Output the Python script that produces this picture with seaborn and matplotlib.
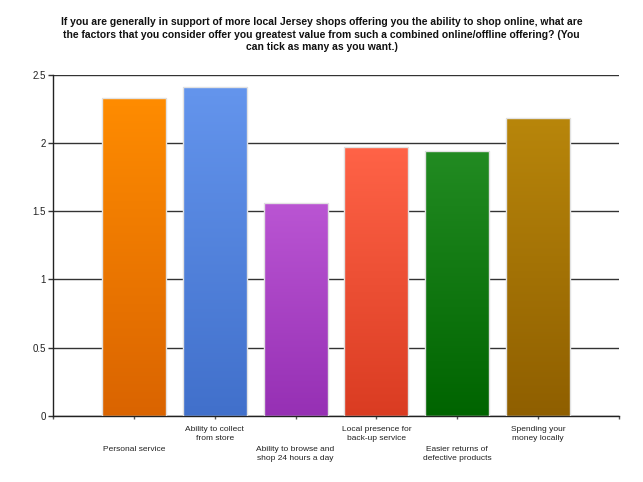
import numpy as np
import pandas as pd
import matplotlib
matplotlib.use("Agg")
import matplotlib.pyplot as plt
import seaborn as sns
from matplotlib.colors import to_rgb

categories = ["Personal service", "Ability to collect\nfrom store",
              "Ability to browse and\nshop 24 hours a day",
              "Local presence for\nback-up service",
              "Easier returns of\ndefective products",
              "Spending your\nmoney locally"]
values = [2.33, 2.41, 1.56, 1.97, 1.94, 2.18]
top_colors = ["#FF8C00", "#6495ED", "#BA55D3", "#FF6347", "#228B22", "#B8860B"]
bottom_colors = ["#DA6400", "#4170CB", "#9630B4", "#DA3C22", "#006400", "#8F5F00"]
y_ticks = [0, 0.5, 1, 1.5, 2, 2.5]
y_tick_labels = ["0", "0.5", "1", "1.5", "2", "2.5"]
title = ("If you are generally in support of more local Jersey shops offering you the ability to shop online, what are\n"
         "the factors that you consider offer you greatest value from such a combined online/offline offering? (You\n"
         "can tick as many as you want.)")

sns.set_theme(style="white")
plt.rcParams['font.family'] = ['Liberation Sans', 'DejaVu Sans']

W, H = 643, 482
fig = plt.figure(figsize=(W / 100, H / 100), dpi=100)
ax = fig.add_axes([53 / W, 1 - 416 / H, (619 - 53) / W, (416 - 74.7) / H])

df = pd.DataFrame({"cat": categories, "val": values})
sns.barplot(data=df, x="cat", y="val", ax=ax, width=64 / 80.8, color="white",
            edgecolor="#e2e2e2", linewidth=1.0, zorder=3)

ax.set_xlim(-1, 6)
ax.set_ylim(0, 2.5)

n = 256
for patch, tc, bc in zip(ax.patches, top_colors, bottom_colors):
    x0, y0 = patch.get_x(), patch.get_y()
    w, h = patch.get_width(), patch.get_height()
    t = np.linspace(0, 1, n)[:, None]
    grad = (1 - t) * np.array(to_rgb(tc)) + t * np.array(to_rgb(bc))
    grad = grad[:, None, :]
    im = ax.imshow(grad, extent=[x0, x0 + w, y0, y0 + h], origin="upper",
                   aspect="auto", zorder=2, interpolation="bilinear")
    im.set_clip_path(patch)
    patch.set_facecolor("none")

ax.set_xlim(-1, 6)
ax.set_ylim(0, 2.5)

ax.set_yticks(y_ticks)
ax.set_yticklabels(y_tick_labels)
ax.set_xticks(list(range(-1, 7)))
ax.set_xticklabels([""] + categories + [""])

ax.tick_params(axis="y", direction="out", length=3.6, width=1, color="#333333",
               pad=1.5, labelsize=7, labelcolor="#222222", left=True)
ax.tick_params(axis="x", direction="out", length=2.2, width=1, color="#555555",
               labelsize=6, labelcolor="#222222", bottom=True)
for lbl in ax.get_xticklabels():
    lbl.set_ha("center")
    lbl.set_linespacing(1.35)

ticks = ax.xaxis.get_major_ticks()
for i, tk in enumerate(ticks):
    idx = i - 1
    if 0 <= idx < len(categories):
        tk.set_pad(19.7 if idx % 2 == 0 else 5.3)

ax.set_axisbelow(True)
ax.yaxis.grid(True, color="#333333", linewidth=1.0)
ax.xaxis.grid(False)
ax.set_xlabel("")
ax.set_ylabel("")
for s in ["top", "right"]:
    ax.spines[s].set_visible(False)
for s in ["left", "bottom"]:
    ax.spines[s].set_visible(True)
    ax.spines[s].set_color("#222222")
    ax.spines[s].set_linewidth(1.0)

fig.text(0.5, 1 - 17 / H, title, ha="center", va="top", fontsize=7.5,
         fontweight="bold", color="#111111", linespacing=1.33)

fig.savefig("out.png", dpi=100)
